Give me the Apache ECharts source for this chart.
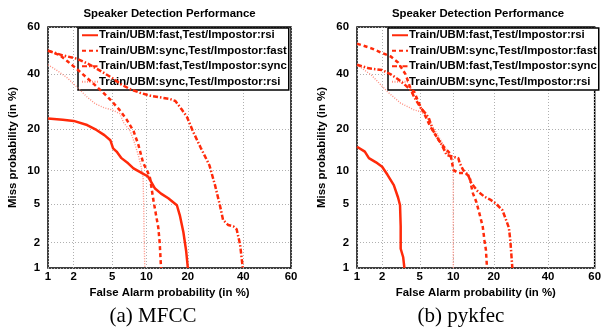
<!DOCTYPE html>
<html><head><meta charset="utf-8">
<script src="https://cdn.jsdelivr.net/npm/echarts@6/dist/echarts.min.js"></script>
<style>html,body{margin:0;padding:0;background:#fff}#c{width:604px;height:329px}</style>
</head><body><div id="c"></div>
<script>
// Tick labels (percent)
const tickPercents = [1, 2, 5, 10, 20, 40, 60];
const axisMinPct = 1, axisMaxPct = 60;
const seriesNames = ['Train/UBM:fast,Test/Impostor:rsi','Train/UBM:sync,Test/Impostor:fast','Train/UBM:fast,Test/Impostor:sync','Train/UBM:sync,Test/Impostor:rsi'];
const panelTitle = 'Speaker Detection Performance';
const xTitle = 'False Alarm probability (in %)';
const yTitle = 'Miss probability (in %)';
const captions = ['(a) MFCC', '(b) pykfec'];

// Panel (a) MFCC: [false alarm %, miss %]
const mfccFastRsi = [[1,23.4],[1.5,23],[2,22.6],[2.8,21.3],[3.5,19.8],[4.2,18.3],[4.8,16.9],[5.1,14.8],[5.5,14],[6.1,12.5],[7,11.4],[7.8,10.4],[9.2,9.5],[10.3,8.9],[11.7,7.0],[13,6.3],[14.7,5.7],[16.9,4.9],[17.7,3.9],[18.7,2.6],[19.5,1.6],[20,1]];
const mfccSyncFast = [[1,50],[1.4,48],[1.7,45.5],[2.2,42],[2.7,39],[3.3,36],[4,33],[4.8,30],[5.8,26.5],[6.8,23],[7.8,19.5],[8.6,15.6],[9.4,11.5],[10.2,9.8],[10.7,8.6],[11.3,5.7],[11.8,4.2],[12.4,2.9],[12.7,2],[13,1]];
const mfccFastSync = [[1,50],[1.5,48],[2.2,46.5],[3,44],[4,41],[5,38.5],[6,36],[7.3,34],[9,32.5],[10.7,31.5],[13,30.8],[15,30.3],[16.5,29.5],[18.2,26.5],[19.7,24],[21.5,19.5],[24,15],[27,11],[29,7.5],[30.8,4.9],[32,3.5],[34,3.1],[36,3.0],[37.3,2.8],[38.7,1.9],[39.8,1]];
const mfccSyncRsi = [[1,44],[1.3,41.5],[1.7,38.5],[2.3,34],[2.8,31],[3.4,28.5],[4.2,27],[5,26.3],[5.9,25],[6.4,22],[7.3,19.5],[8,16],[8.6,13],[9.1,10.5],[9.4,8.6],[9.5,5],[9.6,2],[9.7,1]];

// Panel (b) pykfec
const pykFastRsi = [[1,15.2],[1.25,14],[1.4,12.5],[1.7,11.6],[2,10.7],[2.3,9.2],[2.7,7.5],[3.0,5.8],[3.15,4.9],[3.2,3],[3.2,1.7],[3.4,1.35],[3.5,1]];
const pykSyncFast = [[1,53],[1.5,51],[2,49],[2.5,47.5],[3,45],[3.6,40],[4.07,34],[4.4,33],[4.9,28.7],[5.5,25.1],[6.3,20.8],[7.5,16.9],[8.5,14.8],[9.4,13.6],[9.7,12.1],[10,10.1],[11,9.5],[12.4,9.5],[13.5,8.9],[13.9,7.3],[14.3,6.3],[15.1,5.3],[15.9,4.1],[16.8,3.0],[17.3,2.1],[17.7,1.64],[18,1]];
const pykFastSync = [[1,44],[1.4,42.5],[2,41.8],[2.5,40],[3,38],[3.6,35.5],[4.07,33.7],[4.4,31],[5.1,27],[5.7,25],[6.1,23.5],[6.7,19.5],[8,15.6],[8.8,13.2],[10,12.8],[11,12.5],[11.3,11.4],[12,10.1],[13.1,9.2],[13.9,7.8],[15.5,6.6],[17.3,5.9],[19.1,5.5],[20.6,5.1],[22.7,4.4],[23.8,3.6],[24.9,2.9],[25.4,2.1],[26.1,1]];
const pykSyncRsi = [[1,44],[1.5,39.7],[2.3,33],[3.2,28.7],[4.4,26.3],[5.1,25.7],[5.6,24.5],[6.3,22],[7.3,18.5],[8.3,15.6],[9.1,13.5],[9.8,12],[10,11],[10,5],[10,1]];

function probit(p){
  const a=[-3.969683028665376e+01,2.209460984245205e+02,-2.759285104469687e+02,1.383577518672690e+02,-3.066479806614716e+01,2.506628277459239e+00];
  const b=[-5.447609879822406e+01,1.615858368580409e+02,-1.556989798598866e+02,6.680131188771972e+01,-1.328068155288572e+01];
  const c=[-7.784894002430293e-03,-3.223964580411365e-01,-2.400758277161838e+00,-2.549732539343734e+00,4.374664141464968e+00,2.938163982698783e+00];
  const d=[7.784695709041462e-03,3.224671290700398e-01,2.445134137142996e+00,3.754408661907416e+00];
  const pl=0.02425, ph=1-pl; let q,r;
  if(p<pl){q=Math.sqrt(-2*Math.log(p));return (((((c[0]*q+c[1])*q+c[2])*q+c[3])*q+c[4])*q+c[5])/((((d[0]*q+d[1])*q+d[2])*q+d[3])*q+1);}
  if(p>ph){q=Math.sqrt(-2*Math.log(1-p));return -(((((c[0]*q+c[1])*q+c[2])*q+c[3])*q+c[4])*q+c[5])/((((d[0]*q+d[1])*q+d[2])*q+d[3])*q+1);}
  q=p-0.5;r=q*q;return (((((a[0]*r+a[1])*r+a[2])*r+a[3])*r+a[4])*r+a[5])*q/(((((b[0]*r+b[1])*r+b[2])*r+b[3])*r+b[4])*r+1);
}
const tr = pct => probit(pct/100);
const toProbit = arr => arr.map(p => [tr(p[0]), tr(p[1])]);
const tickVals = tickPercents.map(tr);
const fmt = v => { for (let i=0;i<tickVals.length;i++) if (Math.abs(tickVals[i]-v)<1e-6) return String(tickPercents[i]); return ''; };

const FONT = '"Liberation Sans", Arial, Helvetica, sans-serif';
const FS = 11.4;
const RED = '#ff2a0a';
const styles = [
  {color: RED, width: 2.5, type: 'solid'},
  {color: RED, width: 2.5, type: [4,3]},
  {color: RED, width: 2.5, type: [5,2,1.5,2]},
  {color: '#ff8f80', width: 1.4, type: [1,1.5]}
];

const grids = [
  {left: 48, top: 27, width: 243, height: 241},
  {left: 357, top: 27, width: 242, height: 241}
];
function mkX(i){
  return {type:'value', gridIndex:i, min: tr(axisMinPct), max: tr(axisMaxPct),
    name: xTitle, nameLocation:'middle', nameGap: 15,
    nameTextStyle:{fontFamily:FONT, fontWeight:'bold', fontSize:FS, color:'#000'},
    axisLine:{show:false}, axisTick:{show:false, customValues: tickVals},
    axisLabel:{customValues: tickVals, formatter: fmt, margin: 3, fontFamily:FONT, fontWeight:'bold', fontSize:FS, color:'#000', showMinLabel:true, showMaxLabel:true, hideOverlap:false},
    splitLine:{show:true, lineStyle:{color:'#b0b0b0', width:1, type:[1,2]}}};
}
function mkY(i){
  return {type:'value', gridIndex:i, min: tr(axisMinPct), max: tr(axisMaxPct),
    name: yTitle, nameLocation:'middle', nameGap: 30, nameRotate: 90,
    nameTextStyle:{fontFamily:FONT, fontWeight:'bold', fontSize:FS, color:'#000'},
    axisLine:{show:false}, axisTick:{show:false, customValues: tickVals},
    axisLabel:{customValues: tickVals, formatter: fmt, margin: 8, fontFamily:FONT, fontWeight:'bold', fontSize:FS, color:'#000', showMinLabel:true, showMaxLabel:true, hideOverlap:false},
    splitLine:{show:true, lineStyle:{color:'#b0b0b0', width:1, type:[1,2]}}};
}
const panelData = [[mfccFastRsi, mfccSyncFast, mfccFastSync, mfccSyncRsi],[pykFastRsi, pykSyncFast, pykFastSync, pykSyncRsi]];
const series = [];
panelData.forEach((arrs, gi) => {
  [3,2,1,0].forEach(k => {
    const s = styles[k];
    series.push({type:'line', name: seriesNames[k], xAxisIndex: gi, yAxisIndex: gi, data: toProbit(arrs[k]),
      showSymbol:false, symbol:'none', animation:false, z: 10-k,
      lineStyle:{color:s.color, width:s.width, type:s.type}, itemStyle:{color:s.color}});
  });
});
function mkLegend(left){
  return {left: left, top: 28, orient:'vertical', selectedMode:false,
    data: seriesNames.map(n => ({name:n, itemStyle:{opacity:0}})),
    backgroundColor:'#fff', borderColor:'#000', borderWidth:1.5, borderRadius:0,
    padding:[0,2,1,3], itemWidth:16, itemHeight:11, itemGap:1,
    itemStyle:{opacity:0},
    lineStyle:{inherit:true},
    textStyle:{fontFamily:FONT, fontWeight:'bold', fontSize:FS, color:'#000', lineHeight:14.5, padding:[0,0,0,-4]}};
}
const graphics = [];
[169.5, 478].forEach(cx => {
  graphics.push({type:'text', x: cx, y: 14, style:{text: panelTitle, font: 'bold '+FS+'px '+FONT, fill:'#000', textAlign:'center', textVerticalAlign:'middle'}});
});
graphics.push({type:'text', x:153, y:316, style:{text: captions[0], font:'21px "Liberation Serif", "Times New Roman", serif', fill:'#000', textAlign:'center', textVerticalAlign:'middle'}});
graphics.push({type:'text', x:461, y:316, style:{text: captions[1], font:'21px "Liberation Serif", "Times New Roman", serif', fill:'#000', textAlign:'center', textVerticalAlign:'middle'}});

const chart = echarts.init(document.getElementById('c'), null, {renderer:'canvas'});
chart.setOption({
  animation:false,
  grid: grids.map(g => Object.assign({show:true, borderColor:'#000', borderWidth:1.5, backgroundColor:'transparent', containLabel:false}, g)),
  xAxis: [mkX(0), mkX(1)],
  yAxis: [mkY(0), mkY(1)],
  legend: [mkLegend(78), mkLegend(388)],
  series: series,
  graphic: graphics
});
</script></body></html>
